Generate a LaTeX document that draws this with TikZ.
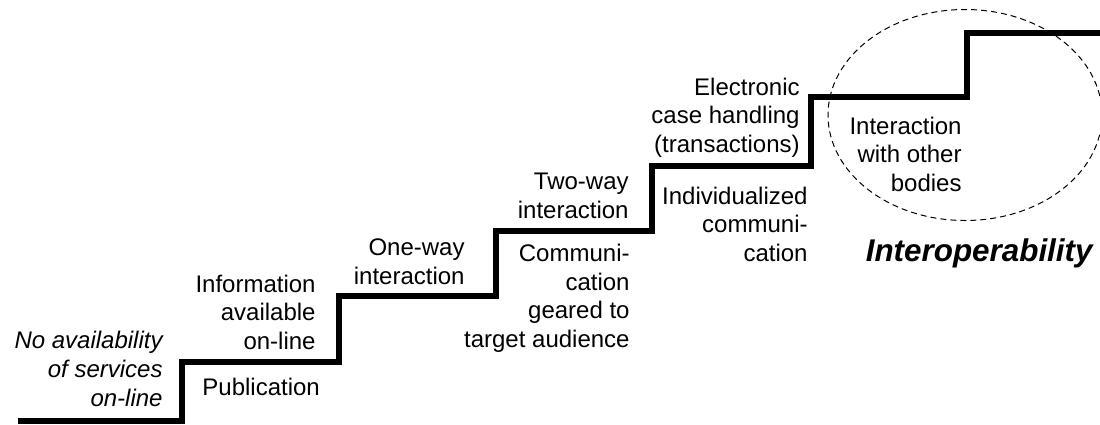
\documentclass[tikz,border=0pt]{standalone}
\usepackage{fontspec}
\setmainfont{Liberation Sans}
\usepackage{tikz}
\usetikzlibrary{positioning}
\tikzset{
  lbl/.style={inner sep=0pt, text depth=0pt, align=right,
              font=\fontsize{12}{14.4}\selectfont},
  stair/.style={line width=2.7pt, line join=miter, black},
  bubble/.style={dashed, dash pattern=on 3pt off 2pt, line width=0.5pt},
}

\begin{document}
\begin{tikzpicture}[x=0.5pt,y=-0.5pt]
  \useasboundingbox (0,0) rectangle (1100,424);
  % the stairs
  \draw[stair] (18,421) -| (182,362) -| (339,296) -| (496,231)
               -| (652,166) -| (811,97) -| (967,33) -- (1100,33);
  % dashed bubble round the top step
  \draw[bubble] (965,115) ellipse [x radius=137, y radius=105.5];

  % labels above the steps
  \node[lbl, anchor=south east, font=\fontsize{12}{14.6}\selectfont\itshape]
       (nosvc) at (163,407) {No availability\\of services\\on-line};
  \node[lbl, anchor=south east] (info)   at (316,350) {Information\\available\\on-line};
  \node[lbl, anchor=south east] (oneway) at (465,285) {One-way\\interaction};
  \node[lbl, anchor=south east] (twoway) at (629,219) {Two-way\\interaction};
  \node[lbl, anchor=south east] (ech)    at (800,153) {Electronic\\case handling\\(transactions)};
  % labels below the steps
  \node[lbl, anchor=south west] (publ)   at (202,396) {Publication};
  \node[lbl, anchor=south east] (comm)   at (630,348) {Communi-\\cation\\geared to\\target audience};
  \node[lbl, anchor=south east] (indiv)  at (808,262) {Individualized\\communi-\\cation};
  \node[lbl, anchor=south east] (interact) at (962,192) {Interaction\\with other\\bodies};
  \node[lbl, anchor=south east, font=\fontsize{15.7}{18}\selectfont\bfseries\itshape]
       (interop) at (1093,262) {Interoperability};
\end{tikzpicture}
\end{document}
